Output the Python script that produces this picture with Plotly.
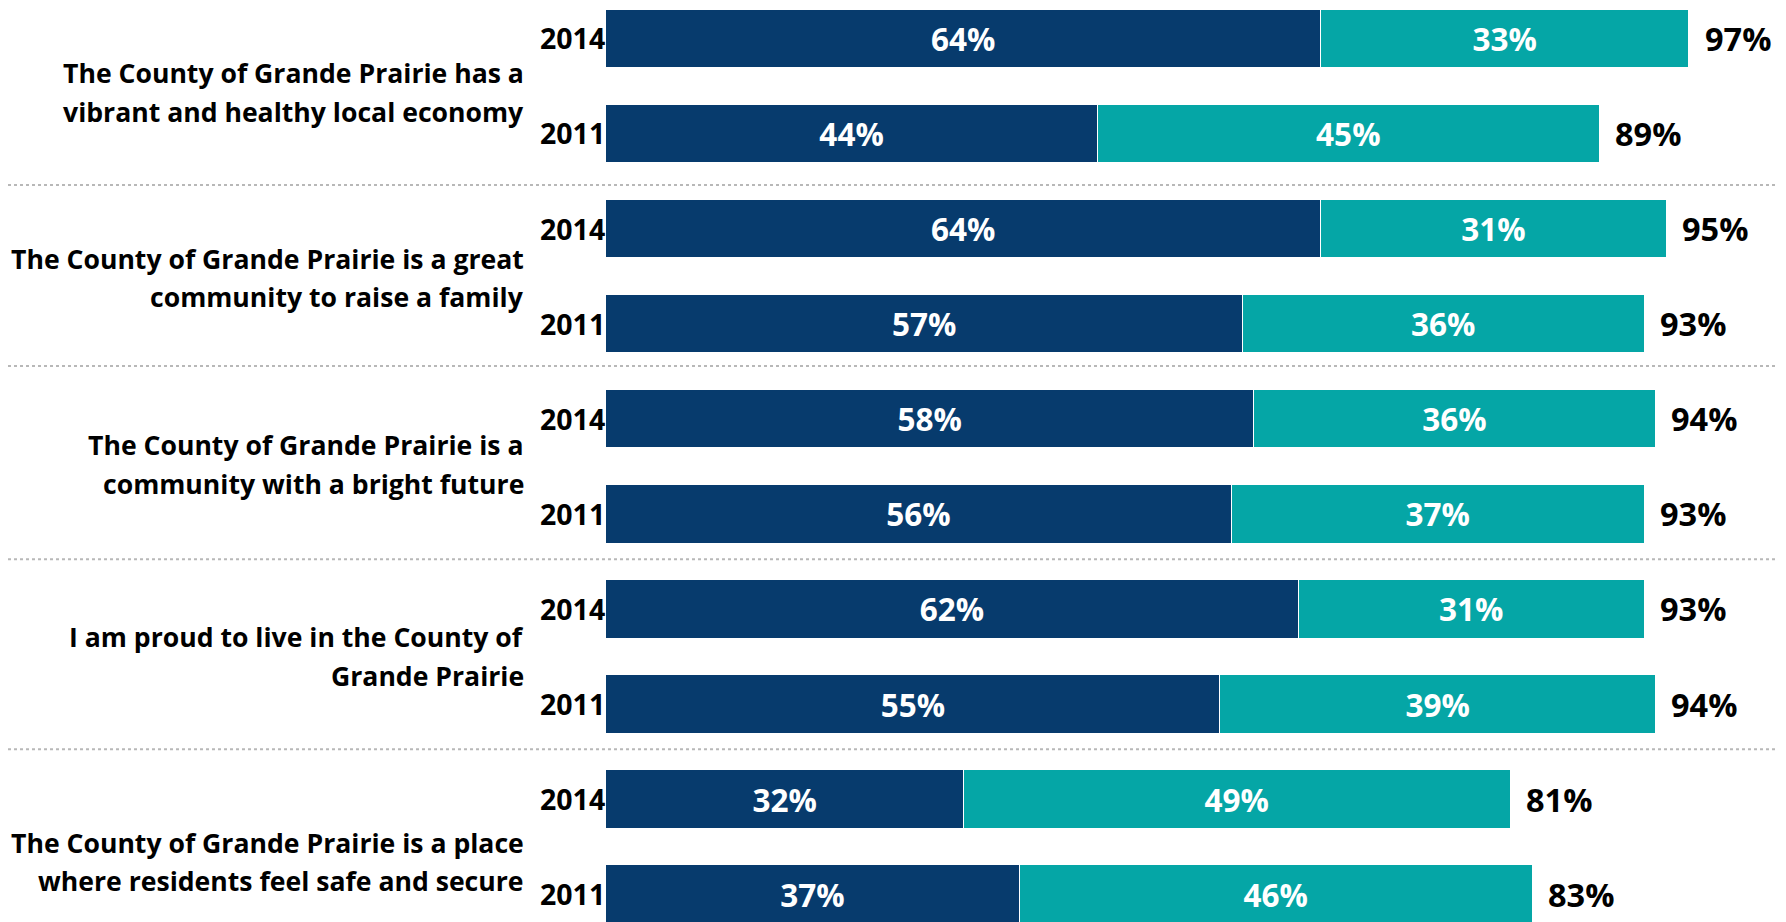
import plotly.graph_objects as go

# ---- data ----
question_lines = [
    ["The County of Grande Prairie has a", "vibrant and healthy local economy"],
    ["The County of Grande Prairie is a great", "community to raise a family"],
    ["The County of Grande Prairie is a", "community with a bright future"],
    ["I am proud to live in the County of", "Grande Prairie"],
    ["The County of Grande Prairie is a place", "where residents feel safe and secure"],
]
years = ["2014", "2011"]
strongly_2014 = [64, 64, 58, 62, 32]
somewhat_2014 = [33, 31, 36, 31, 49]
total_2014 = [97, 95, 94, 93, 81]
strongly_2011 = [44, 57, 56, 55, 37]
somewhat_2011 = [45, 36, 37, 39, 46]
total_2011 = [89, 93, 93, 94, 83]

# ---- layout constants ----
NAVY = "#073B6D"
TEAL = "#05A6A6"
FONT = "Open Sans"
question_y = [0.57, 2.52, 4.48, 6.50, 8.66]
separator_y = [1.543, 3.446, 5.478, 7.476]
LINE_HALF = 0.2014

# interleave rows: 2014 then 2011 for each question
row_y, row_year, strong, some, total = [], [], [], [], []
for i in range(len(question_lines)):
    row_y += [2 * i, 2 * i + 1]
    row_year += years
    strong += [strongly_2014[i], strongly_2011[i]]
    some += [somewhat_2014[i], somewhat_2011[i]]
    total += [total_2014[i], total_2011[i]]

fig = go.Figure()
fig.add_trace(go.Bar(
    y=row_y, x=strong, orientation="h", width=0.615,
    marker=dict(color=NAVY, line=dict(color="white", width=1)),
    text=[f"{v}%" for v in strong], texttemplate="<b>%{text}</b>",
    textposition="inside", insidetextanchor="middle",
    textfont=dict(family=FONT, size=31.5, color="white"),
    name="Strongly agree", hoverinfo="skip",
))
fig.add_trace(go.Bar(
    y=row_y, x=some, orientation="h", width=0.615,
    marker=dict(color=TEAL, line=dict(color="white", width=1)),
    text=[f"{v}%" for v in some], texttemplate="<b>%{text}</b>",
    textposition="inside", insidetextanchor="middle",
    textfont=dict(family=FONT, size=31.5, color="white"),
    name="Somewhat agree", hoverinfo="skip",
))

annotations = []
# totals
for y, t in zip(row_y, total):
    annotations.append(dict(x=t, y=y, xref="x", yref="y", text=f"<b>{t}%</b>",
                            showarrow=False, xanchor="left", yanchor="middle", xshift=14,
                            font=dict(family=FONT, size=32.5, color="black")))
# year labels
for y, yr in zip(row_y, row_year):
    annotations.append(dict(x=0, y=y, xref="x", yref="y", text=f"<b>{yr}</b>",
                            showarrow=False, xanchor="right", yanchor="middle", xshift=1,
                            font=dict(family=FONT, size=28.5, color="black")))
# question labels
for qy, lines in zip(question_y, question_lines):
    for j, line in enumerate(lines):
        annotations.append(dict(x=0, y=qy + (2 * j - 1) * LINE_HALF, xref="x", yref="y",
                                text=f"<b>{line}</b>", showarrow=False,
                                xanchor="right", yanchor="middle", xshift=-80,
                                font=dict(family=FONT, size=26.6, color="black")))

shapes = [dict(type="line", xref="paper", x0=0, x1=1, yref="y", y0=s, y1=s,
               line=dict(color="#B8B8B8", width=2, dash="dot"), layer="below")
          for s in separator_y]

# the page has an 8px body margin, so the figure is 8px smaller than the window
fig.update_layout(
    barmode="stack",
    width=1778, height=914,
    margin=dict(l=0, r=0, t=0, b=0),
    paper_bgcolor="white", plot_bgcolor="white",
    showlegend=False,
    xaxis=dict(range=[-53.57, 105.71], visible=False, fixedrange=True),
    yaxis=dict(range=[9.292, -0.3186], visible=False, fixedrange=True),
    annotations=annotations,
    shapes=shapes,
    font=dict(family=FONT),
)

fig.write_html("out.html")
